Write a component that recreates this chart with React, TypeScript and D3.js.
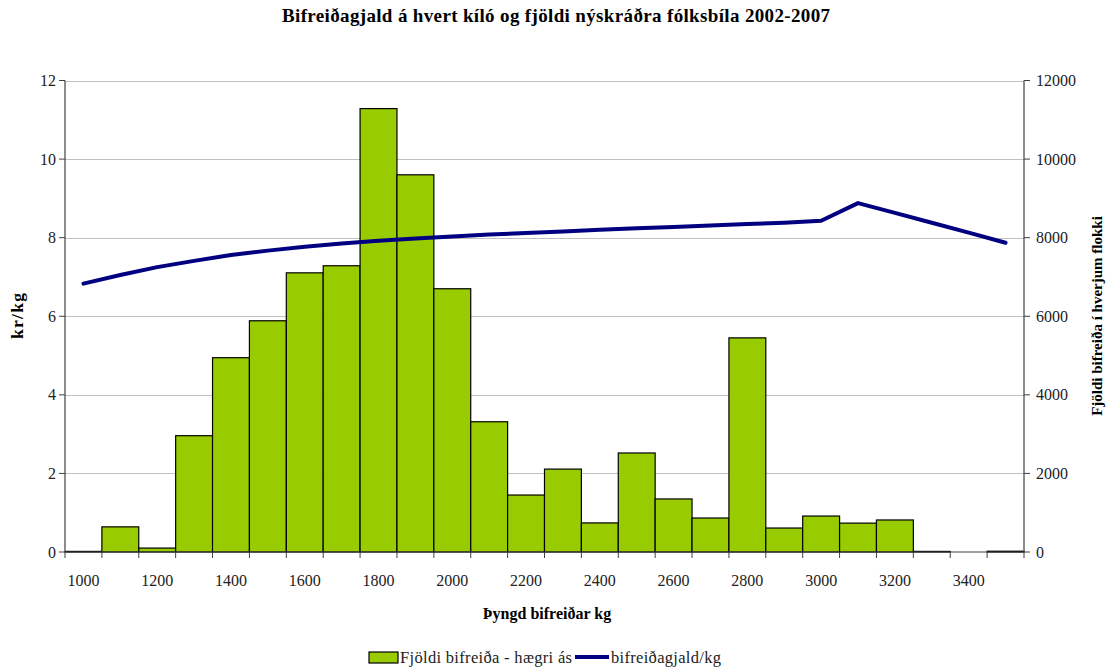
import React from "react";
import * as d3 from "d3";

const categories = [1000,1100,1200,1300,1400,1500,1600,1700,1800,1900,2000,2100,2200,2300,2400,2500,2600,2700,2800,2900,3000,3100,3200,3300,3400,3500];
const counts = [15,640,100,2960,4945,5885,7105,7285,11285,9600,6700,3315,1450,2110,740,2520,1350,865,5450,610,915,735,815,15,0,20];
const feePerKg = [6.83,7.05,7.25,7.41,7.56,7.67,7.77,7.85,7.92,7.98,8.03,8.08,8.12,8.16,8.2,8.24,8.27,8.31,8.35,8.38,8.43,8.88,8.63,8.38,8.13,7.87];
const leftTicks = [0,2,4,6,8,10,12];
const rightTicks = [0,2000,4000,6000,8000,10000,12000];
const xLabels = [1000,1200,1400,1600,1800,2000,2200,2400,2600,2800,3000,3200,3400];

const FONT = "'Liberation Serif',serif";

export default function App() {
  const W = 1107, H = 670;
  const L = 65, R = 1024, T = 80.5, B = 552;
  const x = d3.scaleBand<number>().domain(categories).range([L, R]).padding(0);
  const yL = d3.scaleLinear().domain([0, 12]).range([B, T]);
  const yR = d3.scaleLinear().domain([0, 12000]).range([B, T]);
  const cx = (c: number) => (x(c) as number) + x.bandwidth() / 2;
  const line = d3.line<number>().x((_, i) => cx(categories[i])).y(d => yL(d));
  const bounds = categories.map(c => x(c) as number).concat([R]);

  return (
    <svg width={W} height={H} style={{ position: "absolute", left: 0, top: 0, background: "#fff" }} fontFamily={FONT}>
      <text x={282} y={22} fontWeight="bold" fontSize={19} textLength={548} lengthAdjust="spacing">Bifreiðagjald á hvert kíló og fjöldi nýskráðra fólksbíla 2002-2007</text>
      {leftTicks.slice(1).map(t => (
        <line key={t} x1={L} x2={R} y1={Math.round(yL(t)) + 0.5} y2={Math.round(yL(t)) + 0.5} stroke="#c0c0c0" strokeWidth={1} />
      ))}
      {categories.map((c, i) => (
        counts[i] > 0 ? (
          <rect key={c} x={x(c)} y={yR(counts[i])} width={x.bandwidth()} height={B - yR(counts[i])} fill="#99cc00" stroke="#000" strokeWidth={1.2} />
        ) : null
      ))}
      <path d={line(feePerKg) || ""} fill="none" stroke="#000080" strokeWidth={4} strokeLinejoin="round" strokeLinecap="round" />
      <line x1={L} x2={L} y1={T} y2={B} stroke="#404040" strokeWidth={1.2} />
      <line x1={R} x2={R} y1={T} y2={B} stroke="#404040" strokeWidth={1.2} />
      <line x1={L} x2={R} y1={B} y2={B} stroke="#404040" strokeWidth={1.2} />
      {leftTicks.map(t => (
        <g key={t}>
          <line x1={L - 6} x2={L} y1={yL(t)} y2={yL(t)} stroke="#404040" />
          <text x={56} y={yL(t) + 5.5} textAnchor="end" fontSize={16} fill="#222">{t}</text>
        </g>
      ))}
      {rightTicks.map(t => (
        <g key={t}>
          <line x1={R} x2={R + 6} y1={yR(t)} y2={yR(t)} stroke="#404040" />
          <text x={1036} y={yR(t) + 5.5} textAnchor="start" fontSize={16} fill="#222">{t}</text>
        </g>
      ))}
      {bounds.map((b, i) => (
        <line key={i} x1={b} x2={b} y1={B} y2={B + 6} stroke="#404040" />
      ))}
      {xLabels.map(c => (
        <text key={c} x={cx(c)} y={586} textAnchor="middle" fontSize={16} fill="#222">{c}</text>
      ))}
      <text transform={`translate(23,316) rotate(-90)`} textAnchor="middle" fontWeight="bold" fontSize={17.5} textLength={46} lengthAdjust="spacing">kr/kg</text>
      <text transform={`translate(1102,316) rotate(-90)`} textAnchor="middle" fontWeight="bold" fontSize={15}>Fjöldi bifreiða í hverjum flokki</text>
      <text x={547} y={619} textAnchor="middle" fontWeight="bold" fontSize={16}>Þyngd bifreiðar kg</text>
      <rect x={369} y={652} width={29} height={11} fill="#99cc00" stroke="#000" strokeWidth={1.2} />
      <text x={400} y={663} fontSize={16.5} fill="#222" textLength={172} lengthAdjust="spacing">Fjöldi bifreiða - hægri ás</text>
      <line x1={575} x2={609} y1={657} y2={657} stroke="#000080" strokeWidth={4} />
      <text x={611} y={663} fontSize={16.5} fill="#222" textLength={110} lengthAdjust="spacing">bifreiðagjald/kg</text>
    </svg>
  );
}
